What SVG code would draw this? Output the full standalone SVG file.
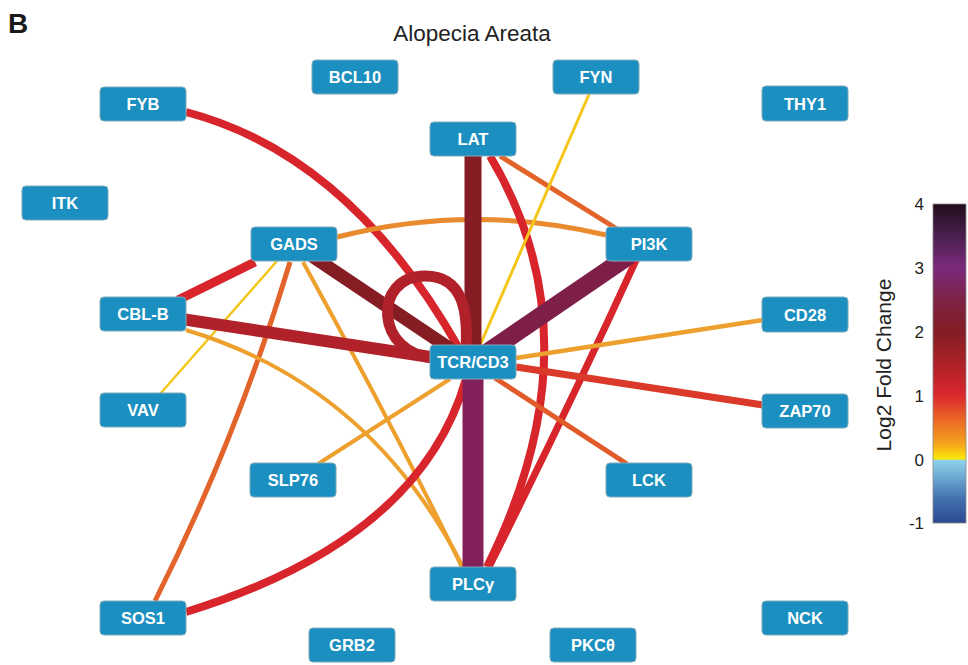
<svg xmlns="http://www.w3.org/2000/svg" width="968" height="665" viewBox="0 0 968 665">
<defs>
<style>
.n rect{fill:#1b8fbf;stroke:#7fa9bb;stroke-width:1}
.n text{font-family:"Liberation Sans",Arial,sans-serif;font-weight:bold;font-size:16.5px;fill:#fff;text-anchor:middle}
.e path,.e line{fill:none;stroke-linecap:butt}
.tk{font-family:"Liberation Sans",Arial,sans-serif;font-size:17px;fill:#222;text-anchor:end}
</style>
<linearGradient id="cb" x1="0" y1="0" x2="0" y2="1">
<stop offset="0" stop-color="#1f0e1c"/>
<stop offset="0.1" stop-color="#4a1f4f"/>
<stop offset="0.2" stop-color="#7b2a7c"/>
<stop offset="0.3" stop-color="#7d2246"/>
<stop offset="0.4" stop-color="#831d24"/>
<stop offset="0.5" stop-color="#ac2127"/>
<stop offset="0.6" stop-color="#db272d"/>
<stop offset="0.68" stop-color="#ec6a25"/>
<stop offset="0.75" stop-color="#f4a21c"/>
<stop offset="0.797" stop-color="#fde60a"/>
<stop offset="0.8" stop-color="#fde60a"/>
<stop offset="0.803" stop-color="#8fd3ea"/>
<stop offset="0.86" stop-color="#6aa6d0"/>
<stop offset="0.92" stop-color="#4673b0"/>
<stop offset="1" stop-color="#2b4892"/>
</linearGradient>
</defs>
<rect width="968" height="665" fill="#fff"/>
<text x="8" y="33" font-family="Liberation Sans,Arial,sans-serif" font-weight="bold" font-size="28" fill="#1a1a1a">B</text>
<text x="472" y="41" font-family="Liberation Sans,Arial,sans-serif" font-size="22.5" fill="#222" text-anchor="middle">Alopecia Areata</text>

<g id="connectors" class="e">
<path d="M186,112 Q350,155 460,350" stroke="#d8242b" stroke-width="8"/>
<path d="M337,237 Q472,203 606,235" stroke="#ea8a2e" stroke-width="5"/>
<line x1="500" y1="156" x2="617" y2="229" stroke="#e2642a" stroke-width="5"/>
<path d="M490,156 Q600,340 487,567" stroke="#d8242b" stroke-width="8"/>
<path d="M637,258 Q570,405 489,567" stroke="#d8242b" stroke-width="7"/>
<line x1="255" y1="262" x2="178" y2="300" stroke="#d8242b" stroke-width="9"/>
<line x1="277" y1="261" x2="160" y2="394" stroke="#f5c61a" stroke-width="2.5"/>
<path d="M290,262 Q237,438 155,601" stroke="#e2642a" stroke-width="5"/>
<path d="M303,262 Q390,420 462,567" stroke="#eea02f" stroke-width="4"/>
<path d="M186,330 Q370,385 463,567" stroke="#eea02f" stroke-width="4"/>
<line x1="450" y1="379" x2="318" y2="464" stroke="#eea02f" stroke-width="4"/>
<path d="M466,379 Q420,540 186,612" stroke="#d8242b" stroke-width="8"/>
<line x1="590" y1="92" x2="478" y2="350" stroke="#f5c61a" stroke-width="3"/>
<line x1="516" y1="358" x2="763" y2="320" stroke="#eea02f" stroke-width="4.5"/>
<line x1="516" y1="367" x2="763" y2="405" stroke="#db3a2b" stroke-width="7"/>
<line x1="495" y1="378" x2="627" y2="464" stroke="#e05a2a" stroke-width="5"/>
<line x1="473" y1="150" x2="473" y2="350" stroke="#861d24" stroke-width="17"/>
<line x1="312" y1="256" x2="455" y2="352" stroke="#861d24" stroke-width="13"/>
<line x1="175" y1="318" x2="450" y2="360" stroke="#b02129" stroke-width="12"/>
<path d="M435,358 C375,355 372,276 425,276 C465,276 468,315 466,350" stroke="#b02129" stroke-width="11"/>
<line x1="630" y1="255" x2="482" y2="356" stroke="#7e1f4a" stroke-width="18"/>
<line x1="473" y1="370" x2="473" y2="575" stroke="#83215a" stroke-width="21"/>
</g>

<g id="n-FYB" class="n"><rect x="100" y="87" width="86" height="34" rx="4"/><text x="143" y="110">FYB</text></g>
<g id="n-BCL10" class="n"><rect x="312" y="60" width="86" height="34" rx="4"/><text x="355" y="83">BCL10</text></g>
<g id="n-FYN" class="n"><rect x="553" y="60" width="86" height="34" rx="4"/><text x="596" y="83">FYN</text></g>
<g id="n-THY1" class="n"><rect x="762" y="86" width="86" height="35" rx="4"/><text x="805" y="109.5">THY1</text></g>
<g id="n-LAT" class="n"><rect x="430" y="122" width="86" height="34" rx="4"/><text x="473" y="145">LAT</text></g>
<g id="n-ITK" class="n"><rect x="22" y="186" width="86" height="34" rx="4"/><text x="65" y="209">ITK</text></g>
<g id="n-GADS" class="n"><rect x="251" y="227" width="86" height="34" rx="4"/><text x="294" y="250">GADS</text></g>
<g id="n-PI3K" class="n"><rect x="606" y="227" width="86" height="34" rx="4"/><text x="649" y="250">PI3K</text></g>
<g id="n-CBL-B" class="n"><rect x="100" y="297" width="86" height="34" rx="4"/><text x="143" y="320">CBL-B</text></g>
<g id="n-CD28" class="n"><rect x="762" y="297" width="86" height="35" rx="4"/><text x="805" y="320.5">CD28</text></g>
<g id="n-TCR" class="n"><rect x="430" y="345" width="86" height="34" rx="4"/><text x="473" y="368">TCR/CD3</text></g>
<g id="n-VAV" class="n"><rect x="100" y="393" width="86" height="34" rx="4"/><text x="143" y="416">VAV</text></g>
<g id="n-ZAP70" class="n"><rect x="762" y="394" width="86" height="34" rx="4"/><text x="805" y="417">ZAP70</text></g>
<g id="n-SLP76" class="n"><rect x="250" y="463" width="86" height="34" rx="4"/><text x="293" y="486">SLP76</text></g>
<g id="n-LCK" class="n"><rect x="606" y="463" width="86" height="34" rx="4"/><text x="649" y="486">LCK</text></g>
<g id="n-PLCg" class="n"><rect x="430" y="567" width="86" height="34" rx="4"/><text x="473" y="590">PLCγ</text></g>
<g id="n-SOS1" class="n"><rect x="100" y="601" width="86" height="34" rx="4"/><text x="143" y="624">SOS1</text></g>
<g id="n-NCK" class="n"><rect x="762" y="601" width="86" height="34" rx="4"/><text x="805" y="624">NCK</text></g>
<g id="n-GRB2" class="n"><rect x="309" y="628" width="86" height="34" rx="4"/><text x="352" y="651">GRB2</text></g>
<g id="n-PKC" class="n"><rect x="550" y="628" width="86" height="34" rx="4"/><text x="593" y="651">PKCθ</text></g>

<g id="colorbar">
<rect x="933" y="204" width="33" height="319" fill="url(#cb)" stroke="#888" stroke-width="0.8"/>
<text class="tk" x="924" y="210">4</text>
<text class="tk" x="924" y="274">3</text>
<text class="tk" x="924" y="338">2</text>
<text class="tk" x="924" y="402">1</text>
<text class="tk" x="924" y="466">0</text>
<text class="tk" x="924" y="529">-1</text>
<text x="891" y="365" font-family="Liberation Sans,Arial,sans-serif" font-size="21" fill="#222" text-anchor="middle" transform="rotate(-90 891 365)">Log2 Fold Change</text>
</g>
</svg>
